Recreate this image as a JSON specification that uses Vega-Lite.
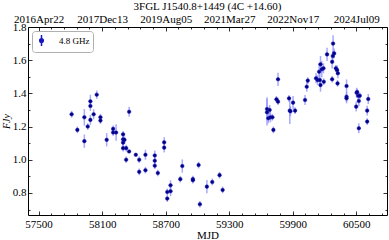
{
  "$schema": "https://vega.github.io/schema/vega-lite/v6.json",
  "width": 359,
  "height": 188,
  "autosize": "none",
  "padding": {"left": 28, "top": 27, "right": 2, "bottom": 25},
  "background": "white",
  "title": {"text": "3FGL J1540.8+1449 (4C +14.60)", "font": "Liberation Serif", "fontSize": 11, "fontWeight": "normal", "color": "black", "offset": 1},
  "data": {"values": [
    {"t": 57812, "f": 1.274, "e": 0.02},
    {"t": 57866, "f": 1.18, "e": 0.02},
    {"t": 57932, "f": 1.256, "e": 0.05},
    {"t": 57932, "f": 1.112, "e": 0.04},
    {"t": 57964, "f": 1.2, "e": 0.02},
    {"t": 57989, "f": 1.24, "e": 0.03},
    {"t": 57989, "f": 1.324, "e": 0.03},
    {"t": 57989, "f": 1.352, "e": 0.04},
    {"t": 58020, "f": 1.274, "e": 0.03},
    {"t": 58049, "f": 1.392, "e": 0.025},
    {"t": 58084, "f": 1.256, "e": 0.02},
    {"t": 58084, "f": 1.236, "e": 0.02},
    {"t": 58143, "f": 1.12, "e": 0.04},
    {"t": 58204, "f": 1.186, "e": 0.02},
    {"t": 58204, "f": 1.164, "e": 0.02},
    {"t": 58232, "f": 1.164, "e": 0.05},
    {"t": 58298, "f": 1.153, "e": 0.02},
    {"t": 58298, "f": 1.123, "e": 0.02},
    {"t": 58298, "f": 1.103, "e": 0.02},
    {"t": 58311, "f": 1.12, "e": 0.02},
    {"t": 58298, "f": 1.07, "e": 0.02},
    {"t": 58327, "f": 1.07, "e": 0.02},
    {"t": 58327, "f": 1.0, "e": 0.02},
    {"t": 58355, "f": 1.289, "e": 0.03},
    {"t": 58355, "f": 1.05, "e": 0.01},
    {"t": 58418, "f": 1.03, "e": 0.01},
    {"t": 58450, "f": 1.0, "e": 0.02},
    {"t": 58450, "f": 0.927, "e": 0.02},
    {"t": 58509, "f": 1.03, "e": 0.03},
    {"t": 58509, "f": 0.937, "e": 0.02},
    {"t": 58597, "f": 1.026, "e": 0.03},
    {"t": 58597, "f": 0.994, "e": 0.02},
    {"t": 58597, "f": 0.964, "e": 0.02},
    {"t": 58626, "f": 0.92, "e": 0.02},
    {"t": 58686, "f": 1.105, "e": 0.03},
    {"t": 58686, "f": 1.073, "e": 0.03},
    {"t": 58715, "f": 0.806, "e": 0.02},
    {"t": 58715, "f": 0.766, "e": 0.02},
    {"t": 58746, "f": 0.846, "e": 0.03},
    {"t": 58746, "f": 0.81, "e": 0.03},
    {"t": 58838, "f": 0.883, "e": 0.02},
    {"t": 58857, "f": 0.962, "e": 0.04},
    {"t": 58957, "f": 0.883, "e": 0.02},
    {"t": 58957, "f": 0.877, "e": 0.02},
    {"t": 59011, "f": 0.968, "e": 0.02},
    {"t": 59023, "f": 0.732, "e": 0.02},
    {"t": 59089, "f": 0.838, "e": 0.04},
    {"t": 59140, "f": 0.866, "e": 0.02},
    {"t": 59209, "f": 0.907, "e": 0.02},
    {"t": 59238, "f": 0.818, "e": 0.02},
    {"t": 59657, "f": 1.306, "e": 0.07},
    {"t": 59657, "f": 1.286, "e": 0.08},
    {"t": 59670, "f": 1.25, "e": 0.03},
    {"t": 59682, "f": 1.3, "e": 0.03},
    {"t": 59689, "f": 1.256, "e": 0.03},
    {"t": 59708, "f": 1.256, "e": 0.02},
    {"t": 59717, "f": 1.18, "e": 0.02},
    {"t": 59746, "f": 1.364, "e": 0.02},
    {"t": 59761, "f": 1.35, "e": 0.02},
    {"t": 59761, "f": 1.485, "e": 0.04},
    {"t": 59865, "f": 1.37, "e": 0.02},
    {"t": 59872, "f": 1.296, "e": 0.08},
    {"t": 59878, "f": 1.292, "e": 0.03},
    {"t": 59903, "f": 1.344, "e": 0.04},
    {"t": 59922, "f": 1.296, "e": 0.02},
    {"t": 60016, "f": 1.36, "e": 0.03},
    {"t": 60032, "f": 1.44, "e": 0.03},
    {"t": 60042, "f": 1.477, "e": 0.02},
    {"t": 60120, "f": 1.491, "e": 0.03},
    {"t": 60134, "f": 1.48, "e": 0.03},
    {"t": 60149, "f": 1.53, "e": 0.05},
    {"t": 60156, "f": 1.48, "e": 0.04},
    {"t": 60162, "f": 1.45, "e": 0.04},
    {"t": 60162, "f": 1.575, "e": 0.05},
    {"t": 60174, "f": 1.545, "e": 0.05},
    {"t": 60190, "f": 1.551, "e": 0.03},
    {"t": 60193, "f": 1.47, "e": 0.02},
    {"t": 60224, "f": 1.635, "e": 0.04},
    {"t": 60272, "f": 1.485, "e": 0.02},
    {"t": 60272, "f": 1.59, "e": 0.04},
    {"t": 60278, "f": 1.625, "e": 0.03},
    {"t": 60281, "f": 1.7, "e": 0.05},
    {"t": 60291, "f": 1.641, "e": 0.03},
    {"t": 60307, "f": 1.551, "e": 0.02},
    {"t": 60319, "f": 1.54, "e": 0.03},
    {"t": 60326, "f": 1.521, "e": 0.03},
    {"t": 60323, "f": 1.46, "e": 0.02},
    {"t": 60408, "f": 1.444, "e": 0.04},
    {"t": 60408, "f": 1.38, "e": 0.03},
    {"t": 60408, "f": 1.37, "e": 0.03},
    {"t": 60499, "f": 1.32, "e": 0.03},
    {"t": 60503, "f": 1.404, "e": 0.03},
    {"t": 60508, "f": 1.408, "e": 0.02},
    {"t": 60518, "f": 1.386, "e": 0.03},
    {"t": 60533, "f": 1.386, "e": 0.02},
    {"t": 60524, "f": 1.354, "e": 0.03},
    {"t": 60603, "f": 1.296, "e": 0.03},
    {"t": 60613, "f": 1.366, "e": 0.03},
    {"t": 60524, "f": 1.19, "e": 0.03},
    {"t": 60603, "f": 1.23, "e": 0.02}
  ]},
  "layer": [
    {
      "mark": {"type": "errorbar", "color": "#8c8cff", "opacity": 0.75},
      "encoding": {
        "x": {"field": "t", "type": "quantitative", "scale": {"domain": [57400, 60790], "nice": false, "zero": false}, "axis": null},
        "y": {"field": "f", "type": "quantitative", "scale": {"domain": [0.667, 1.8], "nice": false, "zero": false}, "axis": null},
        "yError": {"field": "e"}
      }
    },
    {
      "mark": {"type": "circle", "size": 13, "opacity": 1, "stroke": "#1818c0", "strokeWidth": 0.5},
      "encoding": {
        "x": {"field": "t", "type": "quantitative", "axis": {"orient": "bottom", "values": [57500, 58100, 58700, 59300, 59900, 60500], "format": "d", "tickSize": -4, "labelPadding": 7, "labelOverlap": false, "labelFlush": false, "title": "MJD", "titleFontSize": 11, "titlePadding": 0}},
        "y": {"field": "f", "type": "quantitative", "axis": {"orient": "left", "values": [0.8, 1.0, 1.2, 1.4, 1.6, 1.8], "format": ".1f", "tickSize": -4, "labelPadding": 6, "labelOverlap": false, "labelFlush": false, "title": "FJy", "titleFontStyle": "italic", "titleFontSize": 10, "titlePadding": 1}},
        "color": {"datum": "4.8 GHz", "type": "nominal", "scale": {"range": ["#000080"]}, "legend": {
          "orient": "top-left", "offset": 4, "title": null, "strokeColor": "#b0b0b0", "fillColor": "white", "cornerRadius": 3, "padding": 3,
          "labelFont": "Liberation Serif", "labelFontSize": 9, "labelColor": "black", "labelOffset": 11,
          "symbolType": "M0,-1L0,1M-0.33,0A0.33,0.33,0,1,1,0.33,0A0.33,0.33,0,1,1,-0.33,0Z", "symbolSize": 121,
          "encode": {"symbols": {"update": {"stroke": {"value": "#7a7aff"}, "strokeWidth": {"value": 1.2}, "fill": {"value": "#000080"}, "opacity": {"value": 1}}}}
        }}
      }
    },
    {
      "mark": {"type": "point", "opacity": 0},
      "encoding": {
        "x": {"field": "t", "type": "quantitative", "axis": {"orient": "top", "values": [57500, 58100, 58700, 59300, 59900, 60500], "tickSize": -4, "labelPadding": 7, "labelOverlap": false, "labelFlush": false, "title": null,
          "labelExpr": "datum.value==57500?'2016Apr22':datum.value==58100?'2017Dec13':datum.value==58700?'2019Aug05':datum.value==59300?'2021Mar27':datum.value==59900?'2022Nov17':'2024Jul09'",
          "encode": {"labels": {"update": {"dx": {"signal": "datum.value==57500 ? -10 : 0"}}}}}},
        "y": {"field": "f", "type": "quantitative", "axis": {"orient": "right", "values": [0.8, 1.0, 1.2, 1.4, 1.6, 1.8], "tickSize": -4, "labels": false, "title": null}}
      }
    },
    {
      "mark": {"type": "point", "opacity": 0},
      "encoding": {
        "x": {"field": "t", "type": "quantitative", "axis": {"orient": "bottom", "values": [57620, 57740, 57860, 57980, 58220, 58340, 58460, 58580, 58820, 58940, 59060, 59180, 59420, 59540, 59660, 59780, 60020, 60140, 60260, 60380, 60620, 60740], "tickSize": -2, "labels": false, "title": null}},
        "y": {"field": "f", "type": "quantitative", "axis": {"orient": "left", "values": [0.7, 0.9, 1.1, 1.3, 1.5, 1.7], "tickSize": -2, "labels": false, "title": null}}
      }
    },
    {
      "mark": {"type": "point", "opacity": 0},
      "encoding": {
        "x": {"field": "t", "type": "quantitative", "axis": {"orient": "top", "values": [57620, 57740, 57860, 57980, 58220, 58340, 58460, 58580, 58820, 58940, 59060, 59180, 59420, 59540, 59660, 59780, 60020, 60140, 60260, 60380, 60620, 60740], "tickSize": -2, "labels": false, "title": null}},
        "y": {"field": "f", "type": "quantitative", "axis": {"orient": "right", "values": [0.7, 0.9, 1.1, 1.3, 1.5, 1.7], "tickSize": -2, "labels": false, "title": null}}
      }
    }
  ],
  "resolve": {"axis": {"x": "independent", "y": "independent"}},
  "config": {
    "font": "Liberation Serif",
    "view": {"stroke": "black", "strokeWidth": 1},
    "rule": {"strokeWidth": 1.5},
    "axis": {"domain": false, "grid": false, "tickColor": "black", "tickWidth": 0.8, "labelColor": "black", "labelFont": "Liberation Serif", "labelFontSize": 11, "titleFont": "Liberation Serif", "titleFontWeight": "normal", "titleColor": "black"}
  }
}
